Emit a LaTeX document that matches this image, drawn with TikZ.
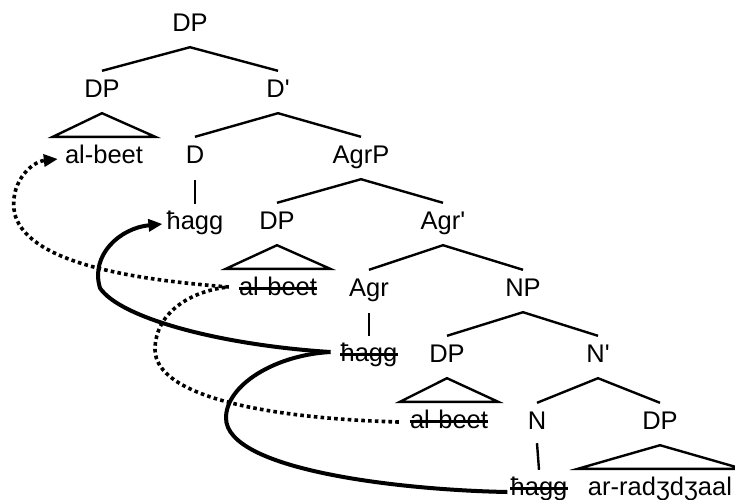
\documentclass[tikz,border=0pt]{standalone}
\usepackage{fontspec}
\setmainfont{Liberation Sans}[Ligatures=TeXOff]
\usetikzlibrary{arrows.meta,calc}
\begin{document}
\begin{tikzpicture}[x=1pt,y=-1pt,
  lab/.style={anchor=base,inner sep=0pt,text height=19pt,text depth=6pt,font=\fontsize{25.5}{30}\selectfont},
  tree/.style={line width=2.4pt},
  strike/.style={line width=2.2pt},
  dots/.style={line width=3.6pt,dash pattern=on 3.6pt off 3.2pt},
  move/.style={line width=4pt},
  tip/.style={-{Triangle[length=14pt,width=12pt]}}]
\useasboundingbox (0,0) rectangle (735,499);
% nodes
\node[lab] (n1) at (190,31) {DP};
\node[lab] (n2) at (102,97) {DP};
\node[lab] (n3) at (278,97) {D'};
\node[lab] (n4) at (104,163) {al-beet};
\node[lab] (n5) at (195,163) {D};
\node[lab] (n6) at (361,163) {AgrP};
\node[lab] (n7) at (195,229) {ħagg};
\node[lab] (n8) at (277,229) {DP};
\node[lab] (n9) at (443,229) {Agr'};
\node[lab] (n10) at (278,295) {al-beet};
\node[lab] (n11) at (369,296) {Agr};
\node[lab] (n12) at (523,296) {NP};
\node[lab] (n13) at (369,361) {ħagg};
\node[lab] (n14) at (447,362) {DP};
\node[lab] (n15) at (598,362) {N'};
\node[lab] (n16) at (449,428) {al-beet};
\node[lab] (n17) at (537,429) {N};
\node[lab] (n18) at (660,429) {DP};
\node[lab] (n19) at (539,495) {ħagg};
\node[lab] (n20) at (660,495) {ar-radʒdʒaal};
% branches
\draw[tree] ([yshift=7pt]n2.north) -- ([yshift=-10pt]n1.south) -- ([yshift=7pt]n3.north);
\draw[tree] ([yshift=7pt]n5.north) -- ([yshift=-10pt]n3.south) -- ([yshift=7pt]n6.north);
\draw[tree] ([yshift=7pt]n8.north) -- ([yshift=-10pt]n6.south) -- ([yshift=7pt]n9.north);
\draw[tree] ([yshift=7pt]n11.north) -- ([yshift=-10pt]n9.south) -- ([yshift=7pt]n12.north);
\draw[tree] ([yshift=7pt]n14.north) -- ([yshift=-10pt]n12.south) -- ([yshift=7pt]n15.north);
\draw[tree] ([yshift=7pt]n17.north) -- ([yshift=-10pt]n15.south) -- ([yshift=7pt]n18.north);
% unary
\draw[tree] ([yshift=-11pt]n5.south) -- ([yshift=6pt]n7.north);
\draw[tree] ([yshift=-11pt]n11.south) -- ([yshift=6pt]n13.north);
\draw[tree] ([yshift=-8pt]n17.south) -- ([yshift=6pt]n19.north);
% triangles
\draw[tree,line join=miter] ([yshift=-10pt]n2.south) -- ([xshift=-12pt,yshift=7pt]n4.north west) -- ([xshift=12pt,yshift=7pt]n4.north east) -- cycle;
\draw[tree,line join=miter] ([yshift=-10pt]n8.south) -- ([xshift=-13pt,yshift=7pt]n10.north west) -- ([xshift=13pt,yshift=7pt]n10.north east) -- cycle;
\draw[tree,line join=miter] ([yshift=-10pt]n14.south) -- ([xshift=-10pt,yshift=7pt]n16.north west) -- ([xshift=10pt,yshift=7pt]n16.north east) -- cycle;
\draw[tree,line join=miter] ([yshift=-10pt]n18.south) -- ([xshift=-10pt,yshift=7pt]n20.north west) -- ([xshift=10pt,yshift=7pt]n20.north east) -- cycle;
% strike-outs
\foreach \n in {n10,n13,n16,n19}
  \draw[strike] ([yshift=6.5pt]\n.base west) -- ([yshift=6.5pt]\n.base east);
% movement: al-beet
\draw[dots,tip] ([xshift=-10pt,yshift=8pt]n10.base west) .. controls (140,280) and (30,265) .. (15,215) .. controls (8,185) and (30,162) .. ([xshift=-7pt,yshift=4pt]n4.base west);
\draw[dots] ([xshift=-11pt,yshift=6pt]n16.base west) .. controls (260,418) and (156,395) .. (155,350) .. controls (155,310) and (195,290) .. ([xshift=-10pt,yshift=8pt]n10.base west);
% movement: hagg
\draw[move,tip] ([xshift=-10pt,yshift=9pt]n13.base west) .. controls (220,345) and (120,318) .. (100,288) .. controls (90,255) and (120,228) .. ([xshift=-4pt,yshift=5pt]n7.base west);
\draw[move] ([xshift=-10pt,yshift=9pt]n13.base west) .. controls (275,355) and (226,385) .. (226,418) .. controls (226,470) and (400,490) .. ([xshift=-3pt,yshift=3pt]n19.base west);
\end{tikzpicture}
\end{document}
